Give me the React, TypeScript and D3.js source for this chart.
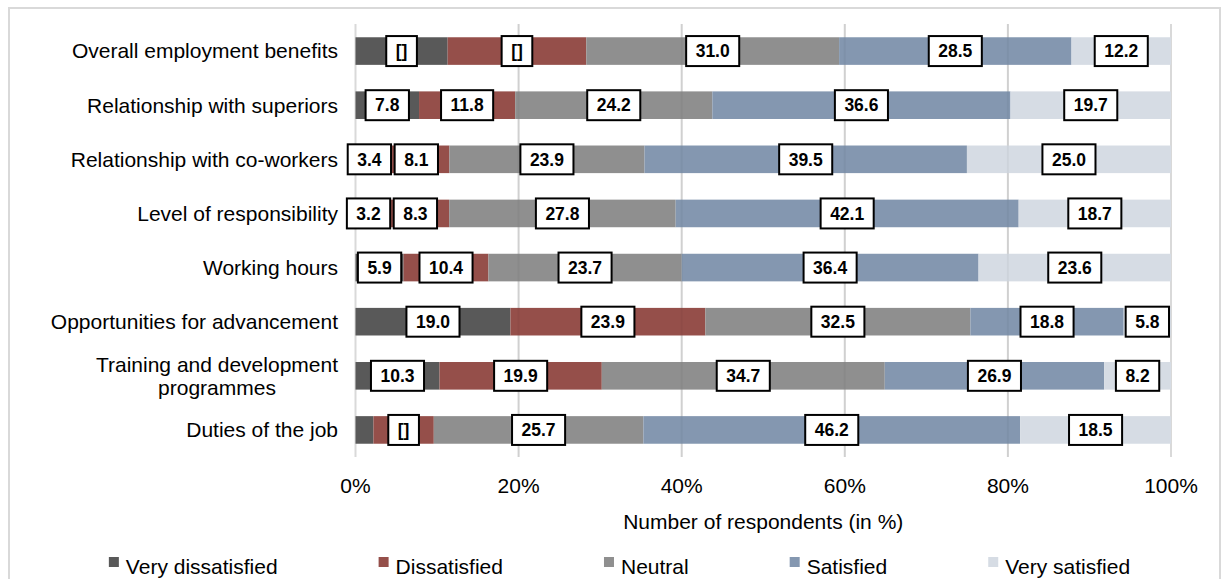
import React, { useEffect, useRef } from "react";
import * as d3 from "d3";

// Survey items (top to bottom)
const categories = [
  "Overall employment benefits",
  "Relationship with superiors",
  "Relationship with co-workers",
  "Level of responsibility",
  "Working hours",
  "Opportunities for advancement",
  "Training and development\nprogrammes",
  "Duties of the job",
];

const seriesNames = ["Very dissatisfied", "Dissatisfied", "Neutral", "Satisfied", "Very satisfied"];

// Share of respondents (%) per answer
const veryDissatisfied = [11.3, 7.8, 3.4, 3.2, 5.9, 19.0, 10.3, 2.2];
const dissatisfied = [17.0, 11.8, 8.1, 8.3, 10.4, 23.9, 19.9, 7.4];
const neutral = [31.0, 24.2, 23.9, 27.8, 23.7, 32.5, 34.7, 25.7];
const satisfied = [28.5, 36.6, 39.5, 42.1, 36.4, 18.8, 26.9, 46.2];
const verySatisfied = [12.2, 19.7, 25.0, 18.7, 23.6, 5.8, 8.2, 18.5];

const seriesColors = ["#595959", "#954f4a", "#8f8f8f", "#8497b0", "#d6dce4"];

const xTicks = [0, 20, 40, 60, 80, 100];
const xTickLabels = ["0%", "20%", "40%", "60%", "80%", "100%"];
const xAxisTitle = "Number of respondents (in %)";

// Data label text that differs from the plain value ("row-series"); null hides the label
const labelOverrides: Record<string, string | null> = {
  "0-0": "[]",
  "0-1": "[]",
  "7-0": null,
  "7-1": "[]",
};

const FONT = "'Liberation Sans', Arial, Helvetica, sans-serif";

export default function App() {
  const ref = useRef<SVGSVGElement | null>(null);

  useEffect(() => {
    const svg = d3.select(ref.current as SVGSVGElement);
    svg.selectAll("*").remove();

    const seriesValues = [veryDissatisfied, dissatisfied, neutral, satisfied, verySatisfied];
    const rows = categories.map((c, i) => {
      const r: Record<string, any> = { category: c };
      seriesNames.forEach((s, k) => (r[s] = seriesValues[k][i]));
      return r;
    });

    const x = d3.scaleLinear().domain([0, 1]).range([355.5, 1171]);
    const y = d3
      .scaleBand<string>()
      .domain(categories)
      .range([24, 457])
      .paddingInner(0.49)
      .paddingOuter(0.245);

    // outer frame
    svg
      .append("rect")
      .attr("x", 9)
      .attr("y", 8)
      .attr("width", 1211)
      .attr("height", 620)
      .attr("fill", "#fff")
      .attr("stroke", "#d9d9d9")
      .attr("stroke-width", 2);

    const [y0, y1] = y.range();

    // vertical gridlines
    const grid = svg.append("g");
    xTicks.forEach((t) => {
      grid
        .append("line")
        .attr("x1", x(t / 100))
        .attr("x2", x(t / 100))
        .attr("y1", y0)
        .attr("y2", y1)
        .attr("stroke", "#d9d9d9")
        .attr("stroke-width", 2);
    });

    // stacked 100% bars
    const stack = d3.stack<any>().keys(seriesNames).offset(d3.stackOffsetExpand);
    const layers = stack(rows);

    const barG = svg.append("g");
    layers.forEach((layer, k) => {
      barG
        .selectAll(null)
        .data(layer)
        .enter()
        .append("rect")
        .attr("x", (d) => x(d[0]))
        .attr("width", (d) => x(d[1]) - x(d[0]))
        .attr("y", (d) => y(d.data.category) as number)
        .attr("height", y.bandwidth())
        .attr("fill", seriesColors[k]);
    });

    // faint gridlines showing through the bars
    xTicks.slice(1, -1).forEach((t) => {
      svg
        .append("line")
        .attr("x1", x(t / 100))
        .attr("x2", x(t / 100))
        .attr("y1", y0)
        .attr("y2", y1)
        .attr("stroke", "#000")
        .attr("stroke-opacity", 0.04)
        .attr("stroke-width", 2);
    });

    // data labels
    const labelG = svg.append("g");
    layers.forEach((layer, k) => {
      layer.forEach((d, i) => {
        const key = `${i}-${k}`;
        let txt: string | null = seriesValues[k][i].toFixed(1);
        if (key in labelOverrides) txt = labelOverrides[key];
        if (txt === null) return;
        const cx = (x(d[0]) + x(d[1])) / 2;
        const cy = (y(d.data.category) as number) + y.bandwidth() / 2;
        const g = labelG.append("g");
        const rect = g.append("rect");
        const text = g
          .append("text")
          .attr("x", cx)
          .attr("y", cy)
          .attr("dy", "0.36em")
          .attr("text-anchor", "middle")
          .attr("font-family", FONT)
          .attr("font-size", 17.5)
          .attr("font-weight", "bold")
          .attr("fill", "#000")
          .text(txt);
        const w = (text.node() as SVGTextElement).getComputedTextLength();
        const bw = w + 19;
        const bh = 30;
        rect
          .attr("x", cx - bw / 2)
          .attr("y", cy - bh / 2)
          .attr("width", bw)
          .attr("height", bh)
          .attr("fill", "#fff")
          .attr("stroke", "#000")
          .attr("stroke-width", 2);
      });
    });

    // category labels
    const catG = svg.append("g");
    categories.forEach((c) => {
      const lines = c.split("\n");
      const cy = (y(c) as number) + y.bandwidth() / 2;
      const lh = 23;
      const texts = lines.map((ln, j) =>
        catG
          .append("text")
          .attr("y", cy + (j - (lines.length - 1) / 2) * lh)
          .attr("dy", "0.35em")
          .attr("font-family", FONT)
          .attr("font-size", 21)
          .attr("fill", "#000")
          .text(ln)
      );
      const widths = texts.map((t) => (t.node() as SVGTextElement).getComputedTextLength());
      const maxW = Math.max(...widths);
      const right = 338;
      texts.forEach((t) => {
        if (lines.length > 1) t.attr("x", right - maxW / 2).attr("text-anchor", "middle");
        else t.attr("x", right).attr("text-anchor", "end");
      });
    });

    // x tick labels
    xTicks.forEach((t, i) => {
      svg
        .append("text")
        .attr("x", x(t / 100))
        .attr("y", 493)
        .attr("text-anchor", "middle")
        .attr("font-family", FONT)
        .attr("font-size", 21)
        .attr("fill", "#000")
        .text(xTickLabels[i]);
    });

    // axis title
    svg
      .append("text")
      .attr("x", (x.range()[0] + x.range()[1]) / 2)
      .attr("y", 529)
      .attr("text-anchor", "middle")
      .attr("font-family", FONT)
      .attr("font-size", 21)
      .attr("fill", "#000")
      .text(xAxisTitle);

    // legend
    const legG = svg.append("g");
    const items = seriesNames.map((s, k) => {
      const g = legG.append("g");
      g.append("rect").attr("width", 10).attr("height", 10).attr("y", 557).attr("fill", seriesColors[k]);
      const t = g
        .append("text")
        .attr("y", 574)
        .attr("font-family", FONT)
        .attr("font-size", 21)
        .attr("fill", "#000")
        .text(s);
      const w = (t.node() as SVGTextElement).getComputedTextLength();
      return { g, t, width: 17 + w };
    });
    const gap = 101;
    const total = d3.sum(items, (d) => d.width) + gap * (items.length - 1);
    let cursor = 619.5 - total / 2;
    items.forEach((it) => {
      it.g.select("rect").attr("x", cursor);
      it.t.attr("x", cursor + 17);
      cursor += it.width + gap;
    });
  }, []);

  return (
    <svg
      ref={ref}
      width={1224}
      height={579}
      style={{ position: "absolute", left: 0, top: 0, display: "block" }}
    />
  );
}
